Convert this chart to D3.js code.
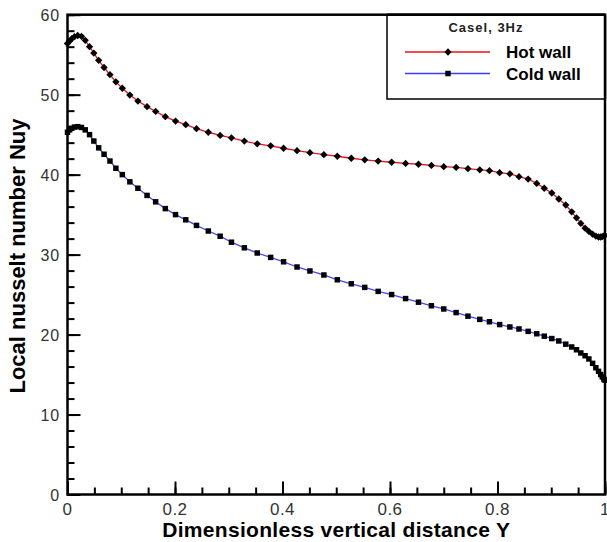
<!DOCTYPE html>
<html>
<head>
<meta charset="utf-8">
<script src="https://cdn.jsdelivr.net/npm/d3@7"></script>
<style>
  body { margin: 0; background: #fff; }
  svg { display: block; font-family: "Liberation Sans", Arial, sans-serif; }
</style>
</head>
<body>
<svg id="chart" width="607" height="542"></svg>
<script>
// shared grid of vertical positions (markers of both walls sit on the same Y)
var gridY = [0, 0.004, 0.008, 0.013, 0.019, 0.026, 0.033, 0.041, 0.049, 0.058, 0.068, 0.079, 0.090, 0.102,
    0.116, 0.131, 0.148, 0.164, 0.182, 0.201, 0.220, 0.240, 0.262, 0.284, 0.305, 0.329, 0.353, 0.378,
    0.402, 0.427, 0.451, 0.477, 0.502, 0.528, 0.553, 0.578, 0.603, 0.629, 0.653, 0.677, 0.700, 0.723,
    0.745, 0.767, 0.785, 0.804, 0.823, 0.840, 0.857, 0.873, 0.887, 0.901, 0.914, 0.927, 0.938, 0.947,
    0.955, 0.963, 0.970, 0.977, 0.983, 0.988, 0.992, 0.995, 0.998, 1.0];

var hotNu = [56.4, 56.7, 57.0, 57.25, 57.4, 57.3, 56.8, 56.0, 55.2, 54.3, 53.4, 52.5, 51.6, 50.8,
    49.95, 49.2, 48.5, 47.9, 47.25, 46.7, 46.25, 45.75, 45.3, 44.9, 44.6, 44.2, 43.85, 43.6,
    43.3, 43.0, 42.75, 42.5, 42.3, 42.05, 41.85, 41.7, 41.55, 41.4, 41.3, 41.15, 41.0, 40.9,
    40.75, 40.6, 40.5, 40.25, 40.1, 39.75, 39.45, 38.9, 38.3, 37.7, 36.95, 36.2, 35.35, 34.6,
    33.9, 33.3, 32.9, 32.55, 32.3, 32.2, 32.2, 32.25, 32.35, 32.4];

var coldNu = [45.3, 45.6, 45.8, 45.95, 46.0, 45.9, 45.6, 45.0, 44.2, 43.35, 42.55, 41.7, 40.8, 40.0,
    39.1, 38.3, 37.4, 36.6, 35.75, 35.0, 34.35, 33.65, 32.95, 32.3, 31.55, 30.85, 30.2, 29.65,
    29.1, 28.45, 27.95, 27.45, 26.85, 26.35, 25.9, 25.4, 25.0, 24.5, 24.05, 23.6, 23.2, 22.75,
    22.3, 21.9, 21.6, 21.25, 20.95, 20.7, 20.4, 20.1, 19.8, 19.5, 19.2, 18.8, 18.45, 18.1,
    17.7, 17.35, 16.95, 16.4, 15.85, 15.4, 15.0, 14.7, 14.4, 14.3];

var seriesNames = ["Hot wall", "Cold wall"];
var legendTitle = "Casel, 3Hz";
var xTicks = [0, 0.2, 0.4, 0.6, 0.8, 1];
var yTicks = [0, 10, 20, 30, 40, 50, 60];

var svg = d3.select("#chart");

var plotL = 67.5, plotR = 605, plotT = 14.7, plotB = 494.5;

var x = d3.scaleLinear().domain([0, 1]).range([plotL, plotR]);
var y = d3.scaleLinear().domain([0, 60]).range([plotB, plotT]);

// minor ticks first, then major ones on top
var xAxisMinor = d3.axisTop(x).tickValues(d3.range(0, 1.0001, 0.05)).tickSize(7).tickFormat("");
var yAxisMinor = d3.axisRight(y).tickValues(d3.range(0, 60.001, 2)).tickSize(7).tickFormat("");
var xAxis = d3.axisTop(x).tickValues(xTicks).tickSize(13).tickFormat("");
var yAxis = d3.axisRight(y).tickValues(yTicks).tickSize(13).tickFormat("");

[xAxisMinor, xAxis].forEach(function(a) {
    svg.append("g").attr("transform", "translate(0," + plotB + ")").call(a)
        .call(function(g) { g.select(".domain").remove(); })
        .selectAll("line").attr("stroke", "#000").attr("stroke-width", 2);
});
[yAxisMinor, yAxis].forEach(function(a) {
    svg.append("g").attr("transform", "translate(" + plotL + ",0)").call(a)
        .call(function(g) { g.select(".domain").remove(); })
        .selectAll("line").attr("stroke", "#000").attr("stroke-width", 2);
});

// tick labels
svg.append("g").selectAll("text").data(xTicks).enter().append("text")
    .attr("x", function(d) { return x(d); })
    .attr("y", 515)
    .attr("text-anchor", "middle")
    .attr("font-size", 17)
    .attr("letter-spacing", 0.5)
    .attr("fill", "#333")
    .text(function(d) { return d3.format("")(d); });

svg.append("g").selectAll("text").data(yTicks).enter().append("text")
    .attr("x", 60)
    .attr("y", function(d) { return y(d) + 6; })
    .attr("text-anchor", "end")
    .attr("font-size", 16)
    .attr("letter-spacing", 0.8)
    .attr("fill", "#333")
    .text(function(d) { return d; });

// curves
var hot = gridY.map(function(v, i) { return [v, hotNu[i]]; });
var cold = gridY.map(function(v, i) { return [v, coldNu[i]]; });

var line = d3.line()
    .x(function(d) { return x(d[0]); })
    .y(function(d) { return y(d[1]); });

svg.append("path").datum(hot).attr("d", line)
    .attr("fill", "none").attr("stroke", "#e8141e").attr("stroke-width", 1.3);
svg.append("path").datum(cold).attr("d", line)
    .attr("fill", "none").attr("stroke", "#4646ff").attr("stroke-width", 1.3);

var diamond = d3.symbol().type(d3.symbolDiamond2).size(34);
var square = d3.symbol().type(d3.symbolSquare).size(30);

svg.append("g").selectAll("path").data(hot).enter().append("path")
    .attr("d", diamond)
    .attr("transform", function(d) { return "translate(" + x(d[0]) + "," + y(d[1]) + ")"; })
    .attr("fill", "#000");

svg.append("g").selectAll("path").data(cold).enter().append("path")
    .attr("d", square)
    .attr("transform", function(d) { return "translate(" + x(d[0]) + "," + y(d[1]) + ")"; })
    .attr("fill", "#000");

// frame
svg.append("rect")
    .attr("x", plotL).attr("y", plotT)
    .attr("width", plotR - plotL).attr("height", plotB - plotT)
    .attr("fill", "none").attr("stroke", "#000").attr("stroke-width", 2.5);

// legend
var legend = svg.append("g");
legend.append("rect")
    .attr("x", 387).attr("y", plotT)
    .attr("width", plotR - 387).attr("height", 99 - plotT)
    .attr("fill", "#fff").attr("stroke", "#000").attr("stroke-width", 1.5);
legend.append("line")
    .attr("x1", 387).attr("x2", plotR).attr("y1", plotT).attr("y2", plotT)
    .attr("stroke", "#000").attr("stroke-width", 2.5);
legend.append("line")
    .attr("x1", plotR).attr("x2", plotR).attr("y1", plotT).attr("y2", 99)
    .attr("stroke", "#000").attr("stroke-width", 2.5);
legend.append("text")
    .attr("x", 486).attr("y", 32)
    .attr("text-anchor", "middle")
    .attr("font-size", 13)
    .attr("font-weight", "bold")
    .attr("letter-spacing", 1)
    .attr("fill", "#222")
    .text(legendTitle);

var legendColors = ["#ee1111", "#3c3cff"];
var legendMarks = [diamond, square];
seriesNames.forEach(function(name, i) {
    var ly = 52 + i * 21.5;
    legend.append("line")
        .attr("x1", 405).attr("x2", 490).attr("y1", ly).attr("y2", ly)
        .attr("stroke", legendColors[i]).attr("stroke-width", 1.5);
    legend.append("path")
        .attr("d", legendMarks[i])
        .attr("transform", "translate(448," + ly + ")")
        .attr("fill", "#000");
    legend.append("text")
        .attr("x", 506).attr("y", ly + 6)
        .attr("font-size", 17)
        .attr("font-weight", "bold")
        .attr("fill", "#000")
        .text(name);
});

// axis titles
svg.append("text")
    .attr("x", (plotL + plotR) / 2).attr("y", 537)
    .attr("text-anchor", "middle")
    .attr("font-size", 21)
    .attr("font-weight", "bold")
    .attr("letter-spacing", 0.3)
    .text("Dimensionless vertical distance Y");

svg.append("text")
    .attr("transform", "translate(25," + 256 + ") rotate(-90)")
    .attr("text-anchor", "middle")
    .attr("font-size", 22)
    .attr("font-weight", "bold")
    .text("Local nusselt number Nuy");
</script>
</body>
</html>
